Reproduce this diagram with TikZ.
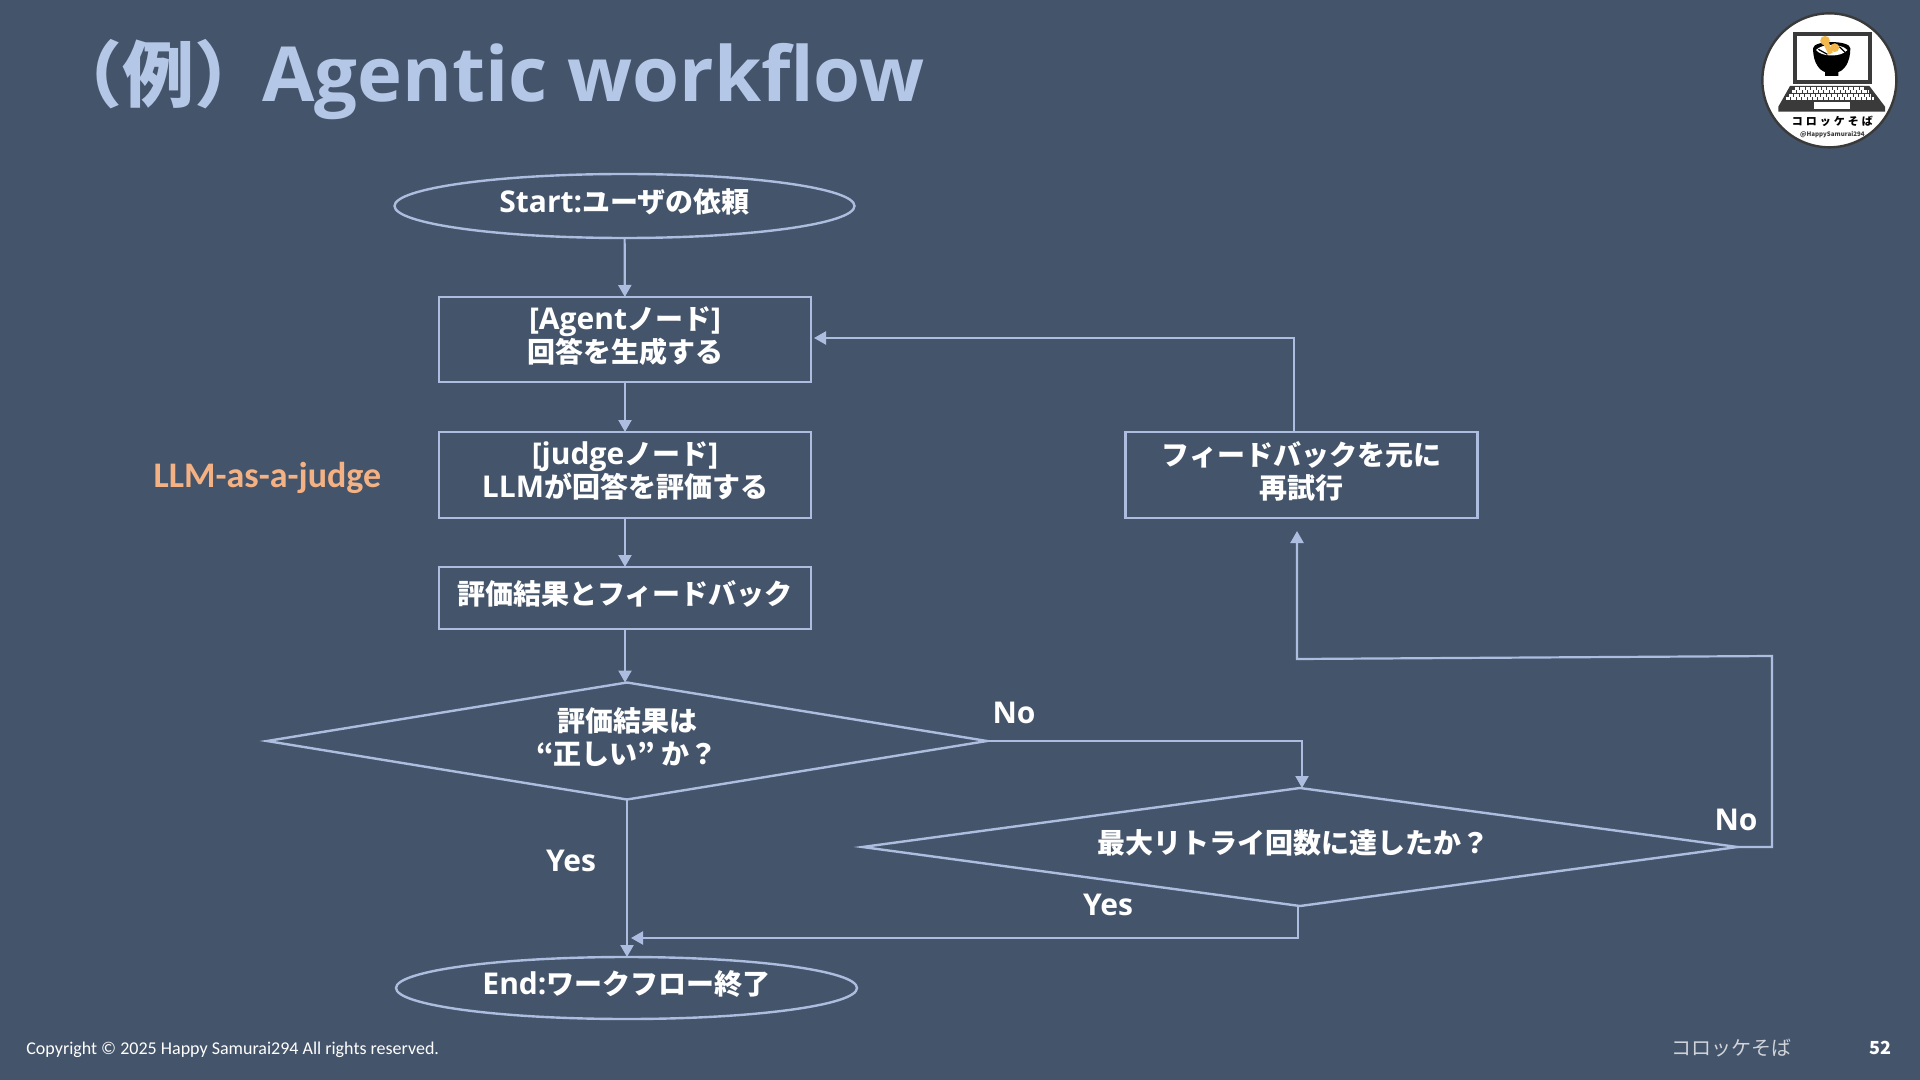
\documentclass[tikz,border=0pt]{standalone}
\usepackage{fontspec}
\setmainfont{Noto Sans CJK JP}
\newfontfamily\footfont{Carlito}
\newfontfamily\latfont{Open Sans}
\usepackage{tikz}
\usetikzlibrary{
  arrows.meta,
  positioning,
  shapes.geometric,
  calc,
}
\definecolor{slideBg}{HTML}{44546A}
\definecolor{flowLine}{HTML}{ACBDE0}
\definecolor{titleBlue}{HTML}{B4C7E7}
\definecolor{judgeOrange}{HTML}{F4B183}
\definecolor{logoDark}{HTML}{3A3A3A}
\definecolor{logoOrange}{HTML}{F2B84B}
\newcommand{\lat}[1]{{\latfont\fontsize{15}{16.5}\selectfont #1}}
\tikzset{
  flowbox/.style={
    rectangle, draw=flowLine, line width=1.2pt, outer sep=0pt, inner sep=0pt,
    text=white, align=center, text depth=5pt,
    font=\fontsize{14}{16.5}\selectfont\bfseries,
  },
  terminal/.style={
    flowbox, ellipse,
  },
  decision/.style={
    flowbox, diamond, aspect=7,
  },
  flowlabel/.style={
    text=white, font=\latfont\fontsize{15}{16.5}\selectfont\bfseries, inner sep=0pt,
  },
  arrowFlow/.style={
    -{Triangle[length=6pt,width=6.5pt]}, line width=1.1pt, draw=flowLine,
  },
  keyrow/.style={
    line width=1.5pt, draw=white, dash pattern=on 2.2pt off 0.5pt,
  },
}

\begin{document}
\begin{tikzpicture}[x=0.5pt, y=-0.5pt]
\useasboundingbox (0, 0) rectangle (1920, 1080);
\fill[slideBg] (0, 0) rectangle (1920, 1080);

% Title
\node[anchor=west, inner sep=0pt, text=titleBlue,
   font=\fontsize{36}{44}\selectfont\bfseries] (title) at (50, 80)
   {（例）\kern-2pt{\latfont\fontsize{38}{44}\selectfont Agentic workflow}};

% Main column
\node[terminal, minimum width=230pt, minimum height=32pt] (start)
   at (624.5, 206) {\lat{Start:}ユーザの依頼};
\node[flowbox, minimum width=186pt, minimum height=42.5pt] (agent)
   at (625, 339.5) {\lat{[Agent}ノード\lat{]}\\回答を生成する};
\node[flowbox, minimum width=186pt, minimum height=43pt] (judge)
   at (625, 475) {\lat{[judge}ノード\lat{]}\\\lat{LLM}が回答を評価する};
\node[flowbox, minimum width=186pt, minimum height=31pt] (result)
   at (625, 598) {評価結果とフィードバック};
\node[decision, minimum width=360pt, minimum height=58.5pt] (correct)
   at (627, 741) {評価結果は\\“正しい” か？};
\node[terminal, minimum width=230.5pt, minimum height=31pt] (finish)
   at (626.5, 988) {\lat{End:}ワークフロー終了};

% Retry column
\node[flowbox, minimum width=176pt, minimum height=43pt] (feedback)
   at (1301.5, 475) {フィードバックを元に\\再試行};
\node[decision, minimum width=437.5pt, minimum height=59pt] (retry)
   at (1300, 847) {最大リトライ回数に達したか？\hspace{7pt}};

% Free ends of the connectors
\coordinate (retryIn) at (1302, 788);
\coordinate (retryTurn) at (1772, 656);
\coordinate (feedbackIn) at (1297, 531);
\coordinate (feedbackOut) at (1294, 432);
\coordinate (agentIn) at (814, 338);
\coordinate (finishIn) at (631, 938);

% Connectors
\draw[arrowFlow] (start) -- (agent);
\draw[arrowFlow] (agent) -- (judge);
\draw[arrowFlow] (judge) -- (result);
\draw[arrowFlow] (result.south) -- (result.south |- correct.north);
\draw[arrowFlow] (correct.south) -- (correct.south |- finish.north);
\draw[arrowFlow] (correct.east) -| (retryIn);
\draw[arrowFlow] ([xshift=-1pt]retry.south) |- (finishIn);
\draw[arrowFlow] (retry.east) -| (retryTurn) -- (1297, 659) -- (feedbackIn);
\draw[arrowFlow] (feedbackOut) |- (agentIn);

% Labels
\node[anchor=center, inner sep=0pt, text=judgeOrange,
   font=\footfont\fontsize{18}{20}\selectfont\bfseries] (llmjudge) at (267.5, 478)
   {LLM-as-a-judge};
\node[flowlabel] (noA) at (1014, 713) {No};
\node[flowlabel] (yesA) at (571, 861) {Yes};
\node[flowlabel] (noB) at (1736, 820) {No};
\node[flowlabel] (yesB) at (1108, 905) {Yes};

% Footer
\node[anchor=west, inner sep=0pt, text=white, font=\footfont\fontsize{9}{11}\selectfont]
   (copyright) at (26, 1049.5) {Copyright © 2025 Happy Samurai294 All rights reserved.};
\node[anchor=center, inner sep=0pt, text=white!75!slideBg, font=\fontsize{10}{12}\selectfont]
   (author) at (1731, 1048) {コロッケそば};
\node[anchor=center, inner sep=0pt, text=white, font=\fontsize{9}{11}\selectfont\bfseries]
   (pageno) at (1880, 1048) {52};

% Logo, in its own 3x grid
\begin{scope}[shift={(1740, 0)}, x=0.16667pt, y=-0.16667pt]
  \fill[white, draw=logoDark, line width=1.2pt] (268, 241) circle (33.5pt);
  % laptop screen
  \fill[logoDark] (158, 95) rectangle (395, 252);
  \fill[white] (170, 107) rectangle (385, 240);
  % laptop base
  \fill[logoDark] (150, 258) -- (388, 258) -- (435, 320) -- (435, 335)
     -- (115, 335) -- (115, 320) -- cycle;
  \foreach \i in {0,1,...,3}
  {
    \pgfmathsetmacro{\xleft}{165 - \i * 9}
    \pgfmathsetmacro{\xright}{375 + \i * 9}
    \pgfmathsetmacro{\ypos}{266 + \i * 10}
    \draw[keyrow] (\xleft, \ypos) -- (\xright, \ypos);
  }
  \fill[white] (222, 307) rectangle (330, 328);
  % bowl
  \fill[black] (219, 145) .. controls (219, 190) and (240, 212) .. (255, 216)
     -- (255, 228) -- (295, 228) -- (295, 216)
     .. controls (310, 212) and (331, 190) .. (331, 145)
     .. controls (331, 120) and (219, 120) .. cycle;
  \fill[white] (228, 150) .. controls (245, 172) and (305, 172) .. (322, 150)
     .. controls (305, 130) and (245, 130) .. cycle;
  \draw[black, line width=0.6pt] (235, 148) -- (262, 163);
  \draw[black, line width=0.6pt] (298, 140) -- (316, 158);
  \fill[logoOrange] (255, 122) circle (2.4pt);
  \fill[logoOrange] (248, 128) -- (265, 122) -- (278, 158) -- (266, 164) -- cycle;
  \fill[logoOrange] (284, 143) circle (2.2pt);
  \node[inner sep=0pt, text=black, font=\fontsize{5.5}{6}\selectfont\bfseries] (logoName)
     at (277, 365) {コ\hspace{1.5pt}ロ\hspace{1.5pt}ッ\hspace{1.5pt}ケ\hspace{1.5pt}そ\hspace{1.5pt}ば};
  \node[inner sep=0pt, text=logoDark, font=\fontsize{3.1}{4}\selectfont\bfseries] (logoHandle)
     at (277, 405) {@HappySamurai294};
\end{scope}

\end{tikzpicture}
\end{document}
